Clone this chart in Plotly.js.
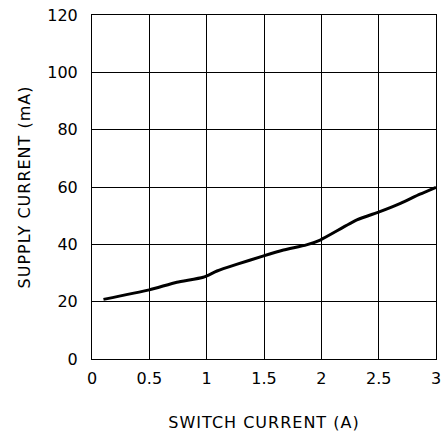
<!DOCTYPE html>
<html><head><meta charset="utf-8">
<script src="https://cdn.plot.ly/plotly-3.0.1.min.js"></script>
<style>body{margin:0;padding:0;background:#fff}#chart{width:443px;height:433px}
.xtitle,.ytitle{letter-spacing:1px}</style>
</head><body><div id="chart"></div>
<script>
const switchCurrent = [0.1, 0.5, 0.74, 0.97, 1.09, 1.26, 1.49, 1.67, 1.87, 1.99, 2.31, 2.51, 2.69, 2.86, 3.0];
const supplyCurrent = [20.8, 24.1, 26.8, 28.5, 30.7, 33.0, 35.9, 38.0, 39.8, 41.5, 48.5, 51.4, 54.3, 57.5, 59.9];
const xTicks = [0, 0.5, 1, 1.5, 2, 2.5, 3];
const xTickText = ['0', '0.5', '1', '1.5', '2', '2.5', '3'];
const yTicks = [0, 20, 40, 60, 80, 100, 120];

const font = {family: 'DejaVu Sans, sans-serif', size: 16, color: '#000'};
Plotly.newPlot('chart', [{
  x: switchCurrent, y: supplyCurrent, mode: 'lines', type: 'scatter',
  line: {color: '#000', width: 3, shape: 'spline', smoothing: 0.6}
}], {
  width: 443, height: 433,
  margin: {l: 92, r: 7, t: 15, b: 74},
  paper_bgcolor: '#fff', plot_bgcolor: '#fff',
  showlegend: false,
  font: font,
  xaxis: {range: [0, 3], tickvals: xTicks, ticktext: xTickText, showgrid: true, gridcolor: '#000', gridwidth: 1,
    showline: true, linecolor: '#000', linewidth: 1, mirror: true, zeroline: false, ticks: '', ticklabelstandoff: 5,
    title: {text: 'SWITCH CURRENT (A)', font: font, standoff: 29}},
  yaxis: {range: [0, 120], tickvals: yTicks, showgrid: true, gridcolor: '#000', gridwidth: 1,
    showline: true, linecolor: '#000', linewidth: 1, mirror: true, zeroline: false, ticks: '', ticklabelstandoff: 10,
    title: {text: 'SUPPLY CURRENT (mA)', font: font, standoff: 12}}
}, {displayModeBar: false, staticPlot: true});
</script></body></html>
